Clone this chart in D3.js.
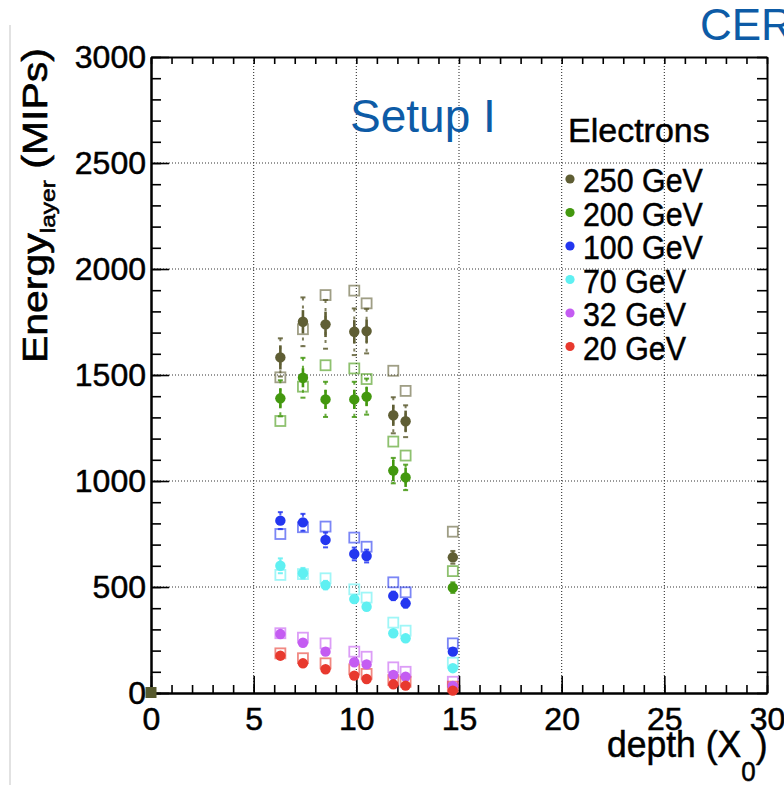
<!DOCTYPE html>
<html><head><meta charset="utf-8">
<script src="https://cdn.jsdelivr.net/npm/d3@7"></script>
<style>html,body{margin:0;padding:0;background:#fff;} svg{display:block;font-family:"Liberation Sans",Arial,Helvetica,sans-serif;}</style>
</head><body>
<svg id="chart" width="784" height="785"></svg>
<script>
// ---- data ----
const depth = [6.3, 7.4, 8.5, 9.9, 10.5, 11.8, 12.4, 14.7];
const seriesNames = ["250 GeV", "200 GeV", "100 GeV", "70 GeV", "32 GeV", "20 GeV"];
const seriesColors = ["#5f5e34", "#43980f", "#2336f0", "#5ff0f2", "#c45cf2", "#e8392e"];
// filled circles (data)
const data250 = [1583, 1751, 1739, 1704, 1707, 1310, 1282, 640];
const data200 = [1390, 1487, 1385, 1385, 1398, 1049, 1017, 497];
const data100 = [813, 805, 722, 656, 646, 458, 423, 195];
const data70  = [600, 565, 509, 443, 407, 282, 258, 117];
const data32  = [278, 237, 195, 145, 135, 85, 77, 33];
const data20  = [176, 140, 112, 82, 66, 41, 35, 11];
// open squares (simulation)
const sim250 = [1489, 1716, 1877, 1898, 1838, 1520, 1425, 761];
const sim200 = [1283, 1445, 1546, 1531, 1481, 1186, 1120, 575];
const sim100 = [750, 782, 785, 733, 690, 522, 475, 234];
const sim70  = [557, 561, 541, 489, 450, 332, 294, 143];
const sim32  = [282, 261, 234, 195, 171, 121, 100, 53];
const sim20  = [187, 164, 140, 112, 90, 61, 53, 30];
// errors: statistical (solid) and total (dashed extension)
const stat250 = [57, 55, 60, 55, 55, 50, 50, 20];
const syst250 = [90, 115, 115, 110, 105, 85, 75, 30];
const stat200 = [47, 45, 45, 45, 45, 50, 45, 15];
const syst200 = [85, 94, 83, 83, 85, 60, 60, 25];
const stat100 = [20, 20, 20, 15, 15, 10, 10, 6];
const syst100 = [40, 40, 35, 30, 30, 20, 20, 10];
const stat70  = [25, 15, 15, 10, 10, 8, 8, 5];
const syst70  = [35, 25, 20, 15, 15, 10, 10, 8];
const stat32  = [8, 8, 8, 6, 6, 5, 5, 4];
const syst32  = [12, 12, 10, 8, 8, 6, 6, 5];
const stat20  = [8, 8, 8, 6, 6, 5, 5, 4];
const syst20  = [12, 12, 10, 8, 8, 6, 6, 5];
const xTicks = [0, 5, 10, 15, 20, 25, 30];
const yTicks = [0, 500, 1000, 1500, 2000, 2500, 3000];
const originPoint = [0, 0];

const dataSets = [data250, data200, data100, data70, data32, data20];
const simSets = [sim250, sim200, sim100, sim70, sim32, sim20];
const statSets = [stat250, stat200, stat100, stat70, stat32, stat20];
const systSets = [syst250, syst200, syst100, syst70, syst32, syst20];

// ---- layout ----
const L = 151, R = 767, T = 57, B = 693;
const svg = d3.select("#chart");
const x = d3.scaleLinear().domain([0, 30]).range([L, R]);
const y = d3.scaleLinear().domain([0, 3000]).range([B, T]);

// faint left border line of screenshot
svg.append("line").attr("x1", 10).attr("x2", 10).attr("y1", 25).attr("y2", 785)
  .attr("stroke", "#e2e2e2").attr("stroke-width", 2);

// grid
const grid = svg.append("g").attr("stroke", "#333").attr("stroke-width", 1.1).attr("stroke-dasharray", "1,2");
xTicks.filter(v => v > 0 && v < 30).forEach(v => grid.append("line")
  .attr("x1", x(v)).attr("x2", x(v)).attr("y1", T).attr("y2", B));
yTicks.filter(v => v > 0 && v < 3000).forEach(v => grid.append("line")
  .attr("x1", L).attr("x2", R).attr("y1", y(v)).attr("y2", y(v)));

// axes
function styleAxis(g, fs) {
  g.select(".domain").attr("stroke", "#000").attr("stroke-width", 2);
  g.selectAll(".tick line").attr("stroke", "#000").attr("stroke-width", 1.6);
  g.selectAll("text").attr("fill", "#000").attr("stroke", "#000").attr("stroke-width", 0.5)
    .attr("font-size", fs).attr("font-family", '"Liberation Sans",Arial,sans-serif');
}
const xMinor = d3.range(0, 31, 1);
const yMinor = d3.range(0, 3001, 100);
// bottom
svg.append("g").attr("transform", `translate(0,${B})`)
  .call(d3.axisBottom(x).tickValues(xMinor).tickFormat("").tickSize(-8).tickSizeOuter(0))
  .call(g => styleAxis(g, 32));
svg.append("g").attr("transform", `translate(0,${B})`)
  .call(d3.axisBottom(x).tickValues(xTicks).tickFormat(d3.format("d")).tickSize(-17).tickSizeOuter(0).tickPadding(14))
  .call(g => styleAxis(g, 32));
// left
svg.append("g").attr("transform", `translate(${L},0)`)
  .call(d3.axisLeft(y).tickValues(yMinor).tickFormat("").tickSize(-10).tickSizeOuter(0))
  .call(g => styleAxis(g, 32));
svg.append("g").attr("transform", `translate(${L},0)`)
  .call(d3.axisLeft(y).tickValues(yTicks).tickFormat(d3.format("d")).tickSize(-18).tickSizeOuter(0).tickPadding(5))
  .call(g => styleAxis(g, 32));
// top
svg.append("g").attr("transform", `translate(0,${T})`)
  .call(d3.axisTop(x).tickValues(xMinor).tickFormat("").tickSize(-7).tickSizeOuter(0))
  .call(g => styleAxis(g, 32));
// right
svg.append("g").attr("transform", `translate(${R},0)`)
  .call(d3.axisRight(y).tickValues(yMinor).tickFormat("").tickSize(-10).tickSizeOuter(0))
  .call(g => styleAxis(g, 32));

// open squares (simulation)
const sq = 10;
simSets.forEach((vals, si) => {
  svg.append("g").selectAll("rect").data(vals).join("rect")
    .attr("x", (d, i) => x(depth[i]) - sq / 2)
    .attr("y", d => y(d) - sq / 2)
    .attr("width", sq).attr("height", sq)
    .attr("fill", "none")
    .attr("stroke", seriesColors[si]).attr("stroke-opacity", 0.6).attr("stroke-width", 1.8);
});

// error bars and filled circles (data)
dataSets.forEach((vals, si) => {
  const g = svg.append("g");
  const c = seriesColors[si];
  const st = statSets[si], sy = systSets[si];
  vals.forEach((v, i) => {
    const cx = x(depth[i]);
    g.append("line").attr("x1", cx).attr("x2", cx)
      .attr("y1", y(v + sy[i])).attr("y2", y(v - sy[i]))
      .attr("stroke", c).attr("stroke-width", 2).attr("stroke-dasharray", "3,5").attr("stroke-opacity", 0.8);
    [v + sy[i], v - sy[i]].forEach(e => g.append("rect")
      .attr("x", cx - 2.5).attr("y", y(e) - 1).attr("width", 5).attr("height", 2)
      .attr("fill", c).attr("fill-opacity", 0.85));
    g.append("line").attr("x1", cx).attr("x2", cx)
      .attr("y1", y(v + st[i])).attr("y2", y(v - st[i]))
      .attr("stroke", c).attr("stroke-width", 2.6);
  });
  g.selectAll("circle").data(vals).join("circle")
    .attr("cx", (d, i) => x(depth[i])).attr("cy", d => y(d)).attr("r", 5.2)
    .attr("fill", c);
});

// origin marker
svg.append("rect").attr("x", x(originPoint[0]) - 5.5).attr("y", y(originPoint[1]) - 6)
  .attr("width", 11).attr("height", 11).attr("fill", "#575a2e");

// axis titles
const xt = svg.append("text").attr("transform", "translate(607,757) scale(0.96,1)")
  .attr("font-size", 37).attr("fill", "#000").attr("stroke", "#000").attr("stroke-width", 0.5);
xt.append("tspan").text("depth (X");
xt.append("tspan").attr("font-size", 27).attr("dy", 24).text("0");
xt.append("tspan").attr("dy", -24).text(")");

const yt = svg.append("text").attr("transform", "translate(47,363) rotate(-90) scale(1.17,1)")
  .attr("font-size", 35).attr("fill", "#000").attr("stroke", "#000").attr("stroke-width", 0.6);
yt.append("tspan").text("Energy");
yt.append("tspan").attr("font-size", 21).attr("dy", 8).text("layer");
yt.append("tspan").attr("dy", -8).text(" (MIPs)");

// annotations
svg.append("text").attr("x", 350).attr("y", 132).attr("font-size", 46).attr("fill", "#0d5ba6").text("Setup I");
svg.append("text").attr("x", 700).attr("y", 40).attr("font-size", 44).attr("fill", "#0d5ba6").text("CERN");

// legend
svg.append("text").attr("x", 568).attr("y", 142).attr("font-size", 34).attr("fill", "#000")
  .attr("stroke", "#000").attr("stroke-width", 0.5).text("Electrons");
seriesNames.forEach((name, i) => {
  const by = 192 + i * 33.5;
  svg.append("circle").attr("cx", 570).attr("cy", by - 13).attr("r", 4.6).attr("fill", seriesColors[i]);
  svg.append("text").attr("transform", `translate(583,${by}) scale(0.92,1)`)
    .attr("font-size", 33).attr("fill", "#000").attr("stroke", "#000").attr("stroke-width", 0.5).text(name);
});
</script>
</body></html>
